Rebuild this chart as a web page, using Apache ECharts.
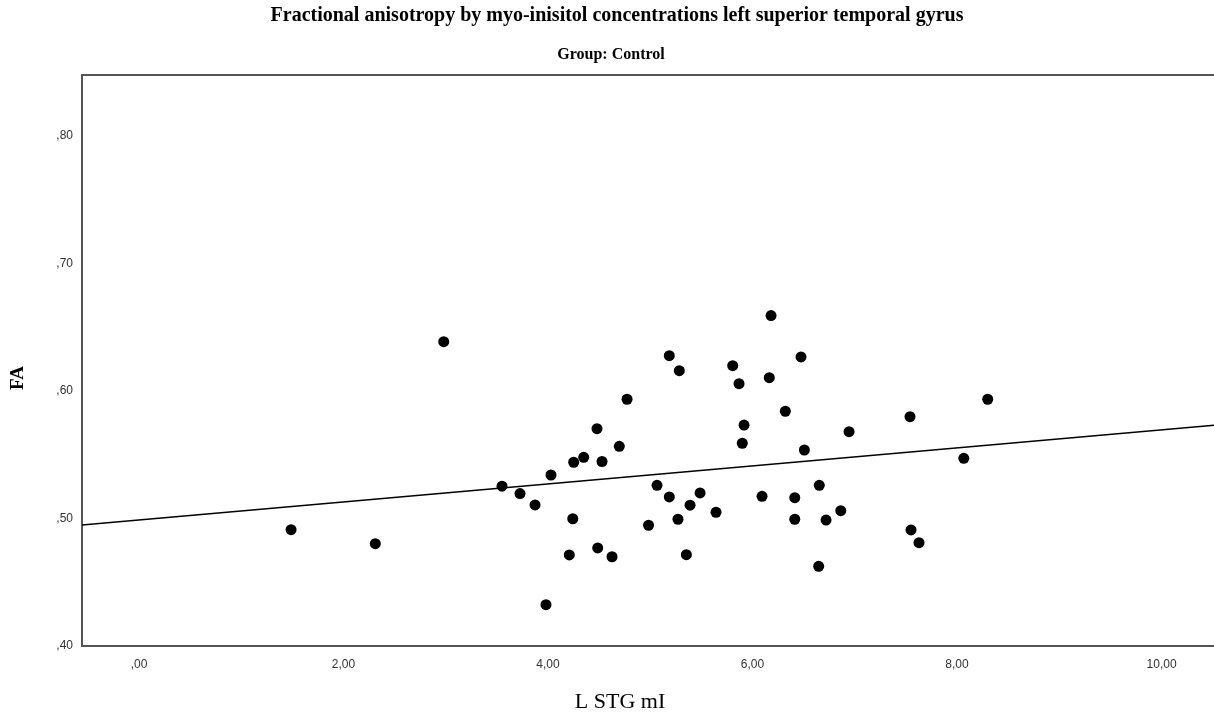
<!DOCTYPE html>
<html>
<head>
<meta charset="utf-8">
<title>FA by mI</title>
<script src="https://cdn.jsdelivr.net/npm/echarts@6.0.0/dist/echarts.min.js"></script>
<style>
  html, body { margin: 0; padding: 0; background: #fff; }
  #main { width: 1214px; height: 715px; }
</style>
</head>
<body>
<div id="main"></div>
<script>
// L STG mI (x) and FA (y)
var mI = [1.487, 2.311, 2.980, 3.550, 3.726, 3.873, 4.029, 3.980, 4.208, 4.242,
  4.251, 4.349, 4.479, 4.486, 4.528, 4.626, 4.697, 4.773, 4.983, 5.066,
  5.186, 5.186, 5.284, 5.271, 5.353, 5.389, 5.487, 5.643, 5.806, 5.868,
  5.900, 5.917, 6.181, 6.164, 6.093, 6.321, 6.413, 6.413, 6.474, 6.507,
  6.653, 6.647, 6.719, 6.863, 6.944, 7.540, 7.550, 7.628, 8.066, 8.300]
var fa = [0.4912, 0.4802, 0.6387, 0.5253, 0.5195, 0.5106, 0.5341, 0.4324, 0.4714, 0.4998,
  0.5441, 0.5480, 0.5704, 0.4769, 0.5447, 0.4700, 0.5566, 0.5935, 0.4947, 0.5260,
  0.6277, 0.5169, 0.6159, 0.4994, 0.4716, 0.5104, 0.5200, 0.5049, 0.6198, 0.6057,
  0.5590, 0.5733, 0.6591, 0.6104, 0.5174, 0.5841, 0.5163, 0.4994, 0.6267, 0.5537,
  0.5260, 0.4625, 0.4988, 0.5061, 0.5681, 0.5798, 0.4910, 0.4810, 0.5472, 0.5935]
// fit line ends (total population)
var fitX = [-0.5575, 10.513]
var fitY = [0.4948, 0.5732]
var xTicks = [0, 2, 4, 6, 8, 10]
var yTicks = [0.4, 0.5, 0.6, 0.7, 0.8]

// SPSS style number: comma decimal, no leading zero
function spssNum (v) {
  var s = v.toFixed(2).replace('.', ',')
  if (s.indexOf('0,') === 0) s = s.substring(1)
  return s
}

var points = []
for (var i = 0; i < mI.length; i++) {
  points.push([mI[i], fa[i]])
}
var fitLine = [[fitX[0], fitY[0]], [fitX[1], fitY[1]]]

var myChart = echarts.init(document.getElementById('main'))
var serif = '"Liberation Serif", "Times New Roman", serif'
var sans = '"Liberation Sans", Arial, sans-serif'
var frameLine = { show: true, onZero: false, lineStyle: { color: '#555', width: 2 } }

var option = {
  animation: false,
  backgroundColor: '#fff',
  title: [
    {
      text: 'Fractional anisotropy by myo-inisitol concentrations left superior temporal gyrus',
      left: 617,
      top: 6,
      padding: 0,
      textAlign: 'center',
      textStyle: { fontFamily: serif, fontWeight: 'bold', fontSize: 20, color: '#000' }
    },
    {
      text: 'Group: Control',
      left: 611,
      top: 47,
      padding: 0,
      textAlign: 'center',
      textStyle: { fontFamily: serif, fontWeight: 'bold', fontSize: 16, color: '#000' }
    },
    {
      text: 'L STG mI',
      left: 620,
      top: 691,
      padding: 0,
      textAlign: 'center',
      textStyle: { fontFamily: serif, fontWeight: 'normal', fontSize: 22, color: '#000' }
    }
  ],
  graphic: [
    {
      type: 'text',
      x: 18,
      y: 378,
      rotation: Math.PI / 2,
      style: {
        text: 'FA',
        font: 'bold 19px ' + serif,
        fill: '#000',
        align: 'center',
        verticalAlign: 'middle'
      }
    }
  ],
  grid: {
    left: 82,
    top: 75,
    right: 0,
    bottom: 69
  },
  xAxis: [
    {
      type: 'value',
      min: fitX[0],
      max: fitX[1],
      axisLine: frameLine,
      axisTick: { show: false },
      splitLine: { show: false },
      axisLabel: {
        customValues: xTicks,
        margin: 13,
        color: '#333',
        fontSize: 12,
        fontFamily: sans,
        formatter: spssNum
      }
    },
    {
      // top edge of the frame only
      type: 'value',
      position: 'top',
      min: fitX[0],
      max: fitX[1],
      axisLine: frameLine,
      axisTick: { show: false },
      splitLine: { show: false },
      axisLabel: { show: false }
    }
  ],
  yAxis: {
    type: 'value',
    min: 0.4,
    max: 0.8478,
    axisLine: frameLine,
    axisTick: { show: false },
    splitLine: { show: false },
    axisLabel: {
      customValues: yTicks,
      margin: 9,
      color: '#333',
      fontSize: 12,
      fontFamily: sans,
      formatter: spssNum
    }
  },
  series: [
    {
      type: 'line',
      data: fitLine,
      symbol: 'none',
      lineStyle: { color: '#000', width: 1.5 },
      silent: true
    },
    {
      type: 'scatter',
      data: points,
      symbol: 'circle',
      symbolSize: 11,
      itemStyle: { color: '#000', opacity: 1 }
    }
  ]
}
myChart.setOption(option)
</script>
</body>
</html>
